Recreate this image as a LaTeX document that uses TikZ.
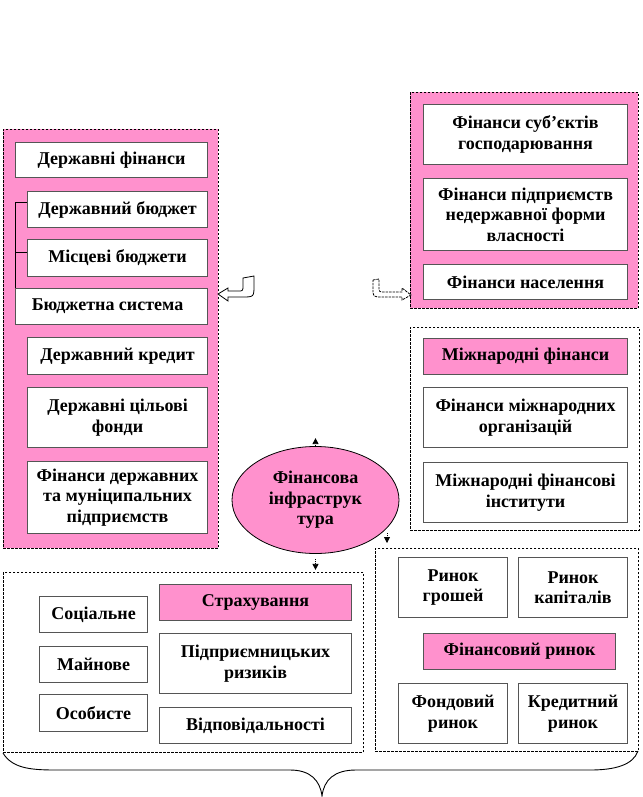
\documentclass[tikz,border=0pt]{standalone}
\usepackage{fontspec}
\setmainfont{Liberation Serif}
\usetikzlibrary{shapes.geometric,arrows.meta}
\definecolor{pinkf}{RGB}{255,145,205}
\definecolor{boxline}{RGB}{85,85,85}
\tikzset{
  wbox/.style={draw=boxline,line width=1.1pt,fill=white,align=center,inner sep=1pt,
    font=\fontsize{18}{20.5}\selectfont\bfseries},
  pbox/.style={wbox,fill=pinkf},
  pframe/.style={draw=black,dash pattern=on 2.5pt off 1.5pt,line width=0.8pt,fill=pinkf},
  wframe/.style={draw=black,dash pattern=on 2.5pt off 1.5pt,line width=0.8pt,fill=white},
  smallarr/.style={densely dotted,line width=0.8pt,-{Triangle[length=6pt,width=6pt]}},
  curlyarr/.style={draw=black,line width=0.8pt,fill=white}
}
\newcommand\bx[7]{\node[#7,anchor=north west,minimum width={(#4-#2)*1pt},minimum height={(#5-#3)*1pt}] (#1) at (#2,#3) {#6};}
\begin{document}
\begin{tikzpicture}[x=1pt,y=-1pt]
\useasboundingbox (0,0) rectangle (642,797);
% containers
\bx{leftc}{3}{129}{218}{548}{}{pframe,inner sep=0pt}
\bx{rtopc}{410}{92}{638}{308}{}{pframe,inner sep=0pt}
\bx{rmidc}{410}{327}{639}{530}{}{wframe,inner sep=0pt}
\bx{blc}{3}{572}{363}{752}{}{wframe,inner sep=0pt}
\bx{brc}{375}{548}{638}{751}{}{wframe,inner sep=0pt}
% left boxes
\bx{dfin}{15}{142}{207}{177}{Державні фінанси}{wbox}
\bx{dbud}{27}{191}{207}{227}{Державний бюджет}{wbox}
\bx{mbud}{27}{239}{207}{276}{Місцеві бюджети}{wbox}
\bx{bsys}{15}{288}{207}{324}{Бюджетна система\hspace*{8pt}}{wbox}
\bx{dkred}{27}{337}{207}{374}{Державний кредит}{wbox}
\bx{dcf}{27}{387}{207}{447}{Державні цільові\\фонди}{wbox}
\bx{fdm}{27}{461}{207}{533}{Фінанси державних\\та муніципальних\\підприємств}{wbox}
\draw[line width=0.8pt] ([yshift=7pt]dbud.west) -| (bsys.north west);
\draw[line width=0.8pt] ([yshift=6pt]mbud.west) -- ([yshift=6pt]mbud.west -| bsys.west);
% right top
\bx{fsg}{423}{104}{627}{164}{Фінанси суб’єктів\\господарювання}{wbox}
\bx{fpn}{423}{178}{627}{250}{Фінанси підприємств\\недержавної форми\\власності}{wbox}
\bx{fnas}{423}{264}{627}{299}{Фінанси населення}{wbox}
% right middle
\bx{mf}{423}{338}{627}{374}{Міжнародні фінанси}{pbox}
\bx{fmo}{423}{387}{627}{447}{Фінанси міжнародних\\організацій}{wbox}
\bx{mfi}{423}{462}{627}{522}{Міжнародні фінансові\\інститути}{wbox}
% bottom left
\bx{soc}{39}{596}{147}{632}{Соціальне}{wbox}
\bx{mayn}{39}{646}{147}{682}{Майнове}{wbox}
\bx{osob}{39}{694}{147}{731}{Особисте}{wbox}
\bx{strakh}{159}{584}{351}{620}{Страхування}{pbox}
\bx{pidr}{159}{633}{351}{693}{Підприємницьких\\ризиків}{wbox}
\bx{vidp}{159}{707}{351}{743}{Відповідальності}{wbox}
% bottom right
\bx{rg}{398}{557}{507}{617}{Ринок\\грошей}{wbox}
\bx{rk}{518}{557}{627}{617}{Ринок\\капіталів}{wbox}
\bx{fr}{423}{633}{615}{669}{Фінансовий ринок}{pbox}
\bx{fondr}{398}{683}{507}{743}{Фондовий\\ринок}{wbox}
\bx{kredr}{518}{683}{627}{743}{Кредитний\\ринок}{wbox}
% ellipse
\node[ellipse,draw=black,line width=0.8pt,fill=pinkf,minimum width=167pt,minimum height=107pt,
  align=center,inner sep=0pt,font=\fontsize{18}{20.5}\selectfont\bfseries] (infra) at (315.5,500)
  {Фінансова\\інфраструк\\тура};
% small arrows
\draw[smallarr] ([yshift=-1pt]infra.north) -- ++(0,-9);
\draw[smallarr] ([yshift=-5pt]infra.south) -- ++(0,11);
\coordinate (dr) at (387,533);
\draw[smallarr] (dr) -- ++(0,10);
% curly arrows
\draw[curlyarr] (243,278) -- (254,276) -- (254,285) .. controls (254,297) .. (242,297)
  -- (228,297) -- (228,301) -- (218,294) -- (228,288) -- (228,291) -- (238,291)
  .. controls (243,291) .. (243,285) -- cycle;
\draw[curlyarr,dash pattern=on 2.5pt off 1pt] (373,280) -- (379,279) -- (379,287) .. controls (379,292) .. (385,292)
  -- (402,292) -- (402,288) -- (411,295) -- (402,300) -- (402,297) -- (383,297)
  .. controls (373,297) .. (373,289) -- cycle;
% brace
\draw[line width=0.9pt] (3,753) .. controls (12,768) and (30,770) .. (55,770) -- (290,770)
  .. controls (310,770) and (320,780) .. (322,796)
  .. controls (324,780) and (334,770) .. (356,770) -- (590,770)
  .. controls (615,770) and (633,765) .. (638,751);
\end{tikzpicture}
\end{document}
